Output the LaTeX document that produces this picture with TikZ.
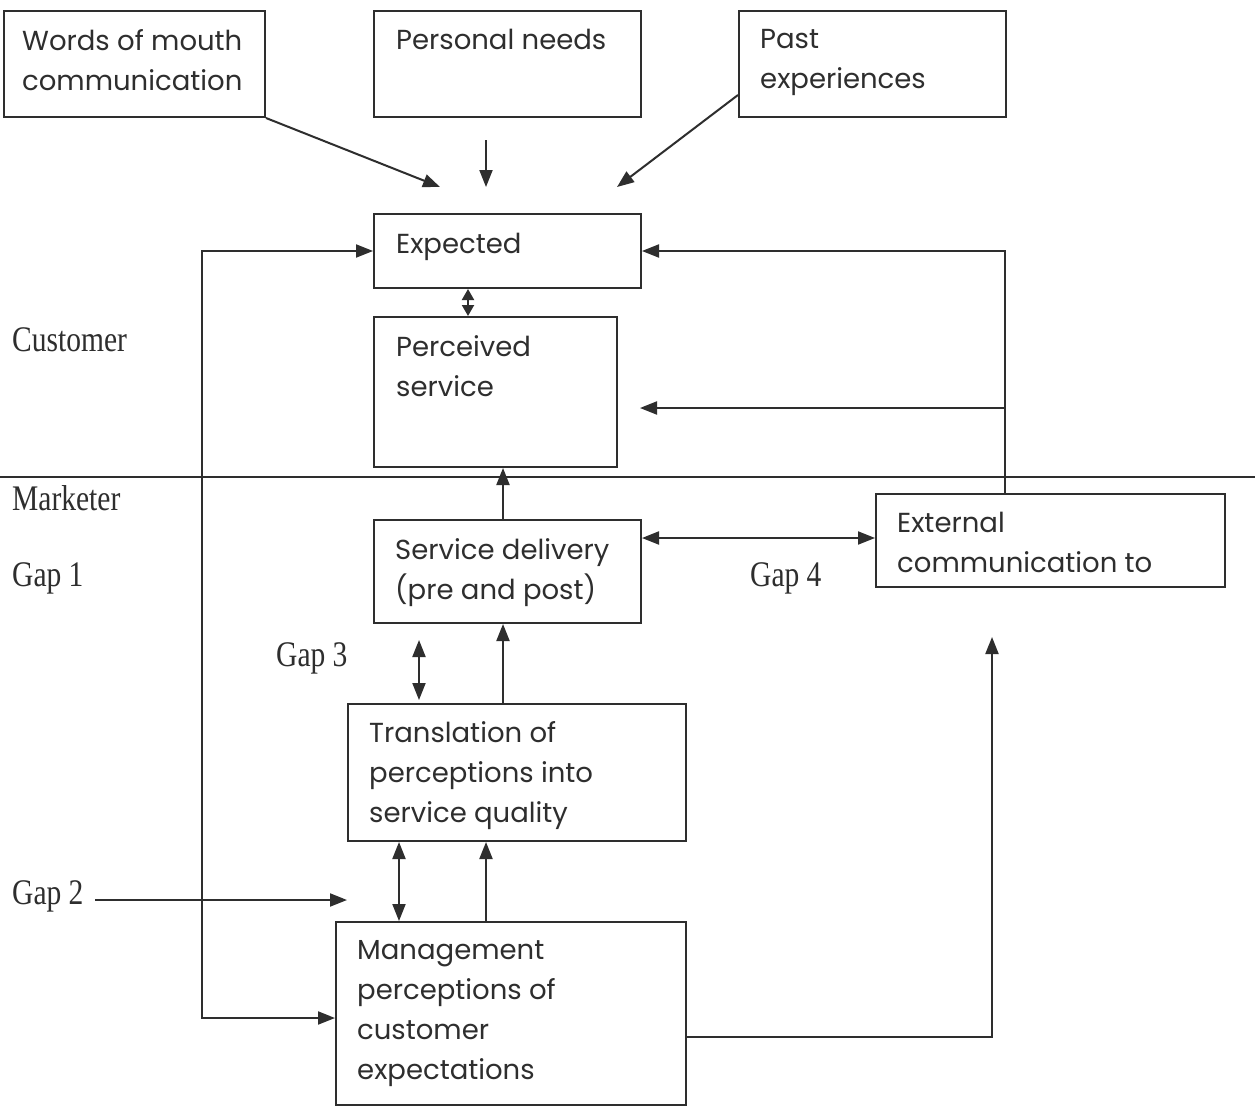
\documentclass[tikz,border=0pt]{standalone}
\usepackage{fontspec}
\setmainfont{Poppins}
\newfontfamily\labfont[FakeStretch=0.82]{Liberation Serif}
\usetikzlibrary{arrows.meta,calc}
\definecolor{ink}{HTML}{2E2E2E}
\begin{document}
\begin{tikzpicture}[x=1pt,y=-1pt,
  box/.style={draw=ink, line width=2pt, rectangle, inner sep=0pt, anchor=north west},
  txt/.style={anchor=north west, inner sep=0pt, align=left, text=ink, font=\fontsize{27.5}{40}\selectfont},
  lab/.style={anchor=west, inner sep=0pt, text=ink, font=\labfont\fontsize{36}{40}\selectfont},
  tip/.tip={Triangle[length=17pt,width=13pt]},
  stip/.tip={Triangle[length=11pt,width=12pt]},
  conn/.style={draw=ink, line width=2pt, -tip},
  dconn/.style={draw=ink, line width=2pt, tip-tip},
  sdconn/.style={draw=ink, line width=2pt, stip-stip},
  plain/.style={draw=ink, line width=2pt}]
\useasboundingbox[fill=white] (0,0) rectangle (1255,1108);

% boxes
\node[box, minimum width=261pt, minimum height=106pt] (wom) at (3,10) {};
\node[box, minimum width=267pt, minimum height=106pt] (pn) at (373,10) {};
\node[box, minimum width=267pt, minimum height=106pt] (pe) at (738,10) {};
\node[box, minimum width=267pt, minimum height=74pt] (exp) at (373,213) {};
\node[box, minimum width=243pt, minimum height=150pt] (perc) at (373,316) {};
\node[box, minimum width=267pt, minimum height=103pt] (sd) at (373,519) {};
\node[box, minimum width=349pt, minimum height=93pt] (ext) at (875,493) {};
\node[box, minimum width=338pt, minimum height=137pt] (tr) at (347,703) {};
\node[box, minimum width=350pt, minimum height=183pt] (mg) at (335,921) {};

% box texts
\node[txt] (womt) at (22,29) {Words of mouth\\communication};
\node[txt] (pnt) at (396,29) {Personal needs};
\node[txt] (pet) at (760,29) {Past\\experiences};
\node[txt] (expt) at (396,233) {Expected};
\node[txt] (perct) at (396,335) {Perceived\\service};
\node[txt] (sdt) at (395,538) {Service delivery\\(pre and post)};
\node[txt] (extt) at (897,512) {External\\communication to};
\node[txt] (trt) at (369,721) {Translation of\\perceptions into\\service quality};
\node[txt] (mgt) at (357,940) {Management\\perceptions of\\customer\\expectations};

% side labels
\node[lab] (cust) at (12,340) {Customer};
\node[lab] (mark) at (12,498) {Marketer};
\node[lab] (g1) at (12,578) {Gap 1};
\node[lab] (g2) at (12,896) {Gap 2};
\node[lab] (g3) at (276,658) {Gap 3};
\node[lab] (g4) at (750,578) {Gap 4};

% divider
\coordinate (divL) at (0,477);
\coordinate (divR) at (1255,477);
\draw[plain] (divL) -- (divR);

% helper coordinates
\coordinate (wtip) at (440,187);
\coordinate (pnA) at (486,140);
\coordinate (pnB) at (486,187);
\coordinate (peA) at (738,95);
\coordinate (petip) at (617,187);
\coordinate (c202) at (202,0);
\coordinate (c468) at (468,0);
\coordinate (c503) at (503,0);
\coordinate (c1005) at (1005,0);
\coordinate (c399) at (399,0);
\coordinate (c486) at (486,0);
\coordinate (r1018) at (0,1018);
\coordinate (r538) at (0,538);
\coordinate (r1037) at (0,1037);
\coordinate (pfree) at (640,408);
\coordinate (pbranch) at (1005,408);
\coordinate (g3a) at (419,640);
\coordinate (g3b) at (419,700);
\coordinate (g2a) at (95,900);
\coordinate (g2b) at (347,900);
\coordinate (extin) at (992,637);

% connectors
\draw[conn] (wom.south east) -- (wtip);
\draw[conn] (pnA) -- (pnB);
\draw[conn] (peA) -- (petip);
\draw[dconn] (exp.west) -| (c202 |- r1018) -- (mg.west |- r1018);
\draw[sdconn] (exp.south -| c468) -- (perc.north -| c468);
\draw[conn] (ext.north -| c1005) |- (exp.east);
\draw[conn] (pbranch) -- (pfree);
\draw[conn] (sd.north -| c503) -- (perc.south -| c503);
\draw[dconn] (sd.east |- r538) -- (ext.west |- r538);
\draw[dconn] (g3a) -- (g3b);
\draw[conn] (tr.north -| c503) -- (sd.south -| c503);
\draw[dconn] (tr.south -| c399) -- (mg.north -| c399);
\draw[conn] (mg.north -| c486) -- (tr.south -| c486);
\draw[conn] (g2a) -- (g2b);
\draw[conn] (mg.east |- r1037) -| (extin);
\end{tikzpicture}
\end{document}
